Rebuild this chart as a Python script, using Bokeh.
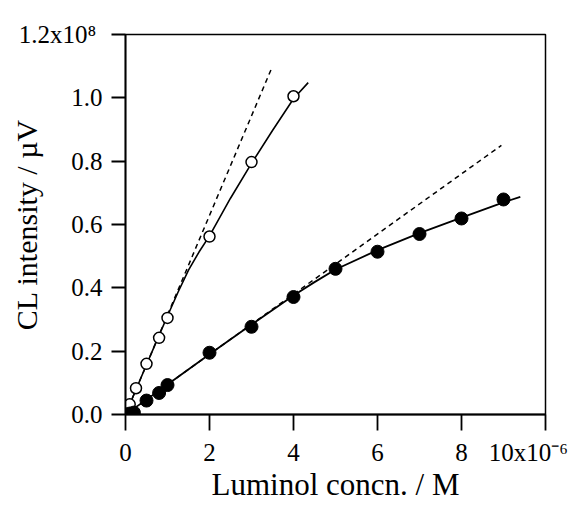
from bokeh.plotting import figure
from bokeh.models import FixedTicker, CustomJSTickFormatter, Range1d
from bokeh.embed import file_html
from bokeh.resources import INLINE

# Data (x in 10^-6 M, y in 10^8 uV)
open_x = [0, 0.1, 0.25, 0.5, 0.8, 1.0, 2.0, 3.0, 4.0]
open_y = [0, 0.032, 0.083, 0.16, 0.242, 0.305, 0.562, 0.797, 1.005]

filled_x = [0, 0.1, 0.2, 0.5, 0.8, 1.0, 2.0, 3.0, 4.0, 5.0, 6.0, 7.0, 8.0, 9.0]
filled_y = [0, 0.003, 0.006, 0.044, 0.068, 0.093, 0.195, 0.277, 0.371, 0.46, 0.514, 0.570, 0.619, 0.679]

# fitted curves
open_fit_x = [0, 0.25, 0.5, 0.75, 1.0, 1.25, 1.5, 1.75, 2.0, 2.5, 3.0, 3.5, 4.0, 4.35]
open_fit_y = [0, 0.079, 0.157, 0.235, 0.311, 0.386, 0.456, 0.513, 0.564, 0.683, 0.793, 0.897, 0.997, 1.048]
filled_fit_x = [0, 0.5, 1.0, 2.0, 3.0, 4.0, 4.5, 5.0, 6.0, 7.0, 8.0, 9.0, 9.4]
filled_fit_y = [0, 0.047, 0.095, 0.19, 0.284, 0.376, 0.418, 0.458, 0.519, 0.573, 0.622, 0.67, 0.687]

# initial-slope dashed lines
open_lin_x = [0, 3.5]
open_lin_y = [0, 1.10]
filled_lin_x = [0, 8.95]
filled_lin_y = [0, 0.85]

x_ticks = [0, 2, 4, 6, 8, 10]
y_ticks = [0, 0.2, 0.4, 0.6, 0.8, 1.0, 1.2]
x_label = "Luminol concn. / M"
y_label = "CL intensity / \u00b5V"
y_top_label = "1.2x10\u2078\u00a0"
x_right_label = "10x10\u207b\u2076\u00a0\u00a0"

FONT = "Liberation Serif"

p = figure(width=580, height=507,
           output_backend="svg", toolbar_location=None,
           x_range=Range1d(0, 10), y_range=Range1d(0, 1.2),
           min_border_left=125, min_border_right=35, min_border_top=34, min_border_bottom=93)
p.grid.visible = False
p.outline_line_color = "black"
p.outline_line_width = 1.5
p.background_fill_color = "white"
p.border_fill_color = "white"

for ax in (p.xaxis[0], p.yaxis[0]):
    ax.axis_line_width = 1.8
    ax.major_tick_line_width = 1.8
    ax.major_tick_in = 0
    ax.minor_tick_line_color = None
    ax.major_label_text_font = FONT
    ax.major_label_text_font_size = "25px"
    ax.major_label_text_color = "black"
    ax.axis_label_text_font = FONT
    ax.axis_label_text_font_style = "normal"
    ax.axis_label_text_color = "black"

p.xaxis.axis_label_text_font_size = "31px"
p.yaxis.axis_label_text_font_size = "30px"
p.xaxis.ticker = FixedTicker(ticks=x_ticks)
p.yaxis.ticker = FixedTicker(ticks=y_ticks)
p.xaxis.major_tick_out = 16
p.yaxis.major_tick_out = 14
p.xaxis.major_label_standoff = 8
p.yaxis.major_label_standoff = 9
p.xaxis.formatter = CustomJSTickFormatter(
    args=dict(last=x_right_label),
    code="return tick > 9 ? last : tick.toFixed(0);")
p.yaxis.formatter = CustomJSTickFormatter(
    args=dict(last=y_top_label),
    code="return tick > 1.1 ? last : tick.toFixed(1);")
p.xaxis.axis_label = x_label
p.xaxis.axis_label_standoff = -2
p.yaxis.axis_label = y_label
p.yaxis.axis_label_standoff = -27

# lines
p.line(open_lin_x, open_lin_y, line_color="black", line_width=1.5, line_dash="5 4")
p.line(filled_lin_x, filled_lin_y, line_color="black", line_width=1.5, line_dash="5 4")
p.line(open_fit_x, open_fit_y, line_color="black", line_width=1.6)
p.line(filled_fit_x, filled_fit_y, line_color="black", line_width=1.8)

p.scatter(open_x, open_y, size=11, fill_color="white", line_color="black", line_width=1.5)
p.scatter(filled_x, filled_y, size=13, fill_color="black", line_color="black")

open("out.html", "w").write(file_html(p, INLINE))
